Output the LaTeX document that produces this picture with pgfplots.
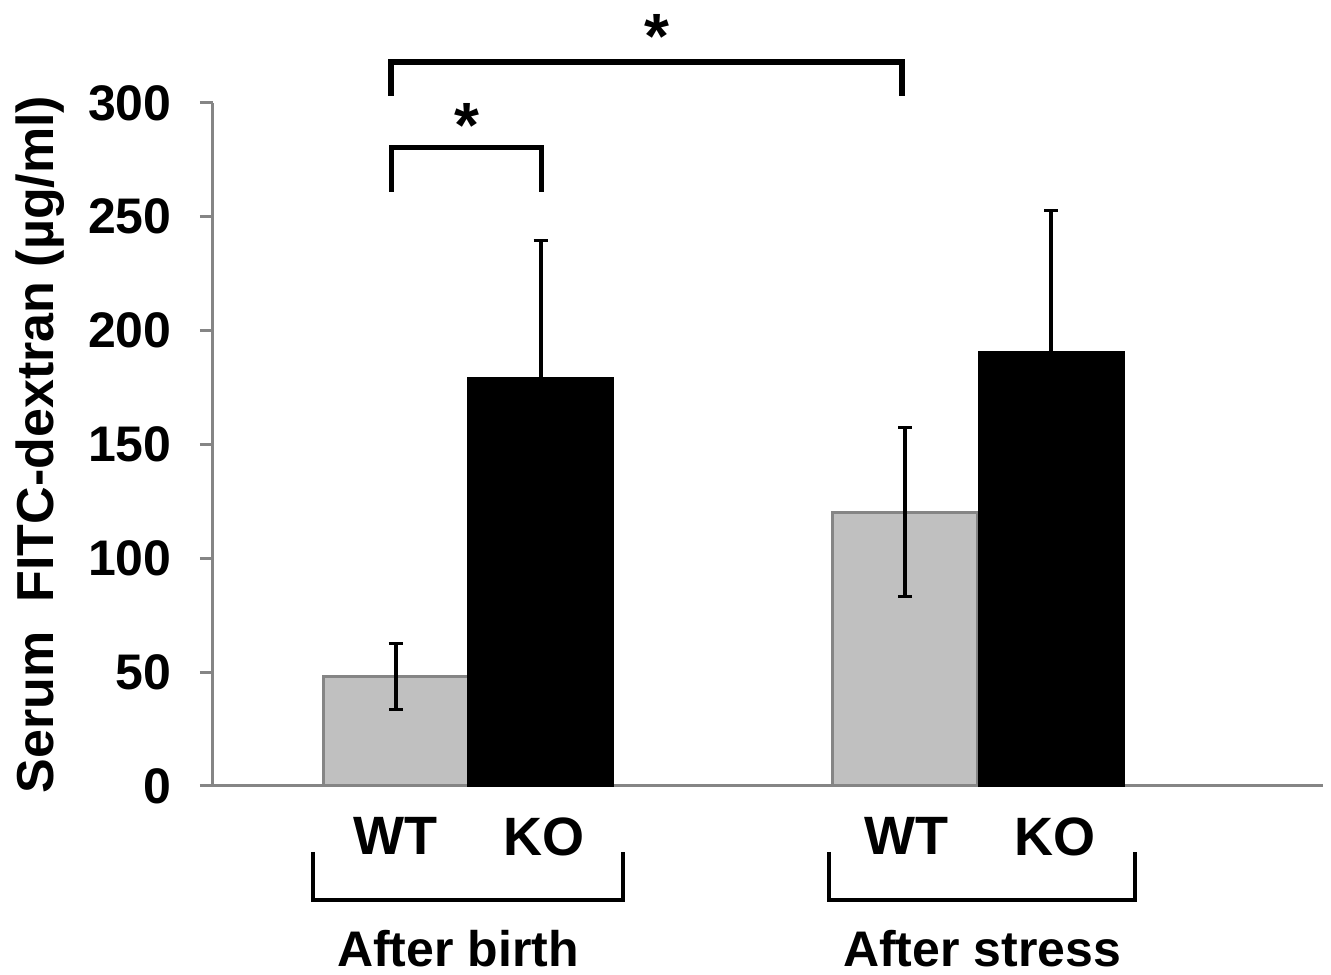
\documentclass[border=0pt]{standalone}
\usepackage{pgfplots}
\pgfplotsset{compat=1.18}
\usepackage{fontspec}
\setmainfont{Liberation Sans}
\definecolor{barg}{HTML}{C0C0C0}
\definecolor{axg}{HTML}{858585}
\begin{document}
\begin{tikzpicture}
\begin{axis}[
  scale only axis,
  width=555pt, height=341.5pt,
  xmin=213, xmax=1323, ymin=0, ymax=300,
  axis x line*=bottom, axis y line*=left,
  axis line style={axg, line width=1.5pt, -},
  clip=false,
  ytick={0,50,...,300},
  tick align=outside,
  major tick length=6.5pt,
  ytick style={axg, line width=1.5pt},
  xtick={395.5,544,906,1055},
  xticklabels={WT,KO,WT,KO},
  xtick style={draw=none},
  /pgf/number format/assume math mode=true,
  yticklabel style={font=\fontsize{25}{30}\selectfont\bfseries, inner sep=0pt, anchor=east, xshift=-14pt},
  xticklabel style={font=\fontsize{27}{32}\selectfont\bfseries, inner sep=0pt, anchor=north, yshift=-9pt},
  ylabel={Serum\ \ FITC-dextran (µg/ml)},
  ylabel style={font=\fontsize{26}{30}\selectfont\bfseries, at={(axis description cs:-0.1784,0.5)}, anchor=north, inner sep=0pt},
]
\addplot[ybar, bar width=145, bar shift=0pt, fill=barg, draw=axg, line width=1.5pt,
  error bars/.cd, y dir=both, y explicit,
  error bar style={black, line width=2pt},
  error mark options={black, rotate=90, line width=1.5pt, mark size=3.5pt}]
  coordinates {(395.5,47.9) +- (0,14.5) (905,120.3) +- (0,37)};
\addplot[ybar, bar width=145, bar shift=0pt, fill=black, draw=black, line width=1pt,
  error bars/.cd, y dir=plus, y explicit,
  error bar style={black, line width=2pt},
  error mark options={black, rotate=90, line width=1.5pt, mark size=3.5pt}]
  coordinates {(540.5,179.2) +- (0,60.2) (1051,190.6) +- (0,62)};
% significance brackets
\draw[line width=2.8pt, line join=miter] (axis cs:391,303.1) -- (axis cs:391,318) -- (axis cs:902,318) -- (axis cs:902,303.1);
\draw[line width=2.5pt, line join=miter] (axis cs:391,260.9) -- (axis cs:391,280.2) -- (axis cs:541,280.2) -- (axis cs:541,260.9);
\node[font=\fontsize{32}{36}\selectfont\bfseries, inner sep=0pt] at (axis cs:657,329) {*};
\node[font=\fontsize{32}{36}\selectfont\bfseries, inner sep=0pt] at (axis cs:467,290) {*};
% group brackets
\draw[line width=2pt, line join=miter] (axis cs:313,-29) -- (axis cs:313,-50.1) -- (axis cs:623,-50.1) -- (axis cs:623,-29);
\draw[line width=2pt, line join=miter] (axis cs:829,-29) -- (axis cs:829,-50.1) -- (axis cs:1135,-50.1) -- (axis cs:1135,-29);
\node[anchor=base, inner sep=0pt, font=\fontsize{25}{30}\selectfont\bfseries] at (axis cs:458,-79.5) {After birth};
\node[anchor=base, inner sep=0pt, font=\fontsize{25}{30}\selectfont\bfseries] at (axis cs:982,-79.5) {After stress};
\coordinate (bl) at (axis cs:0,-83.0);
\coordinate (tr) at (axis cs:1331,345.2);
\end{axis}
\path (bl) rectangle (tr);
\end{tikzpicture}
\end{document}
